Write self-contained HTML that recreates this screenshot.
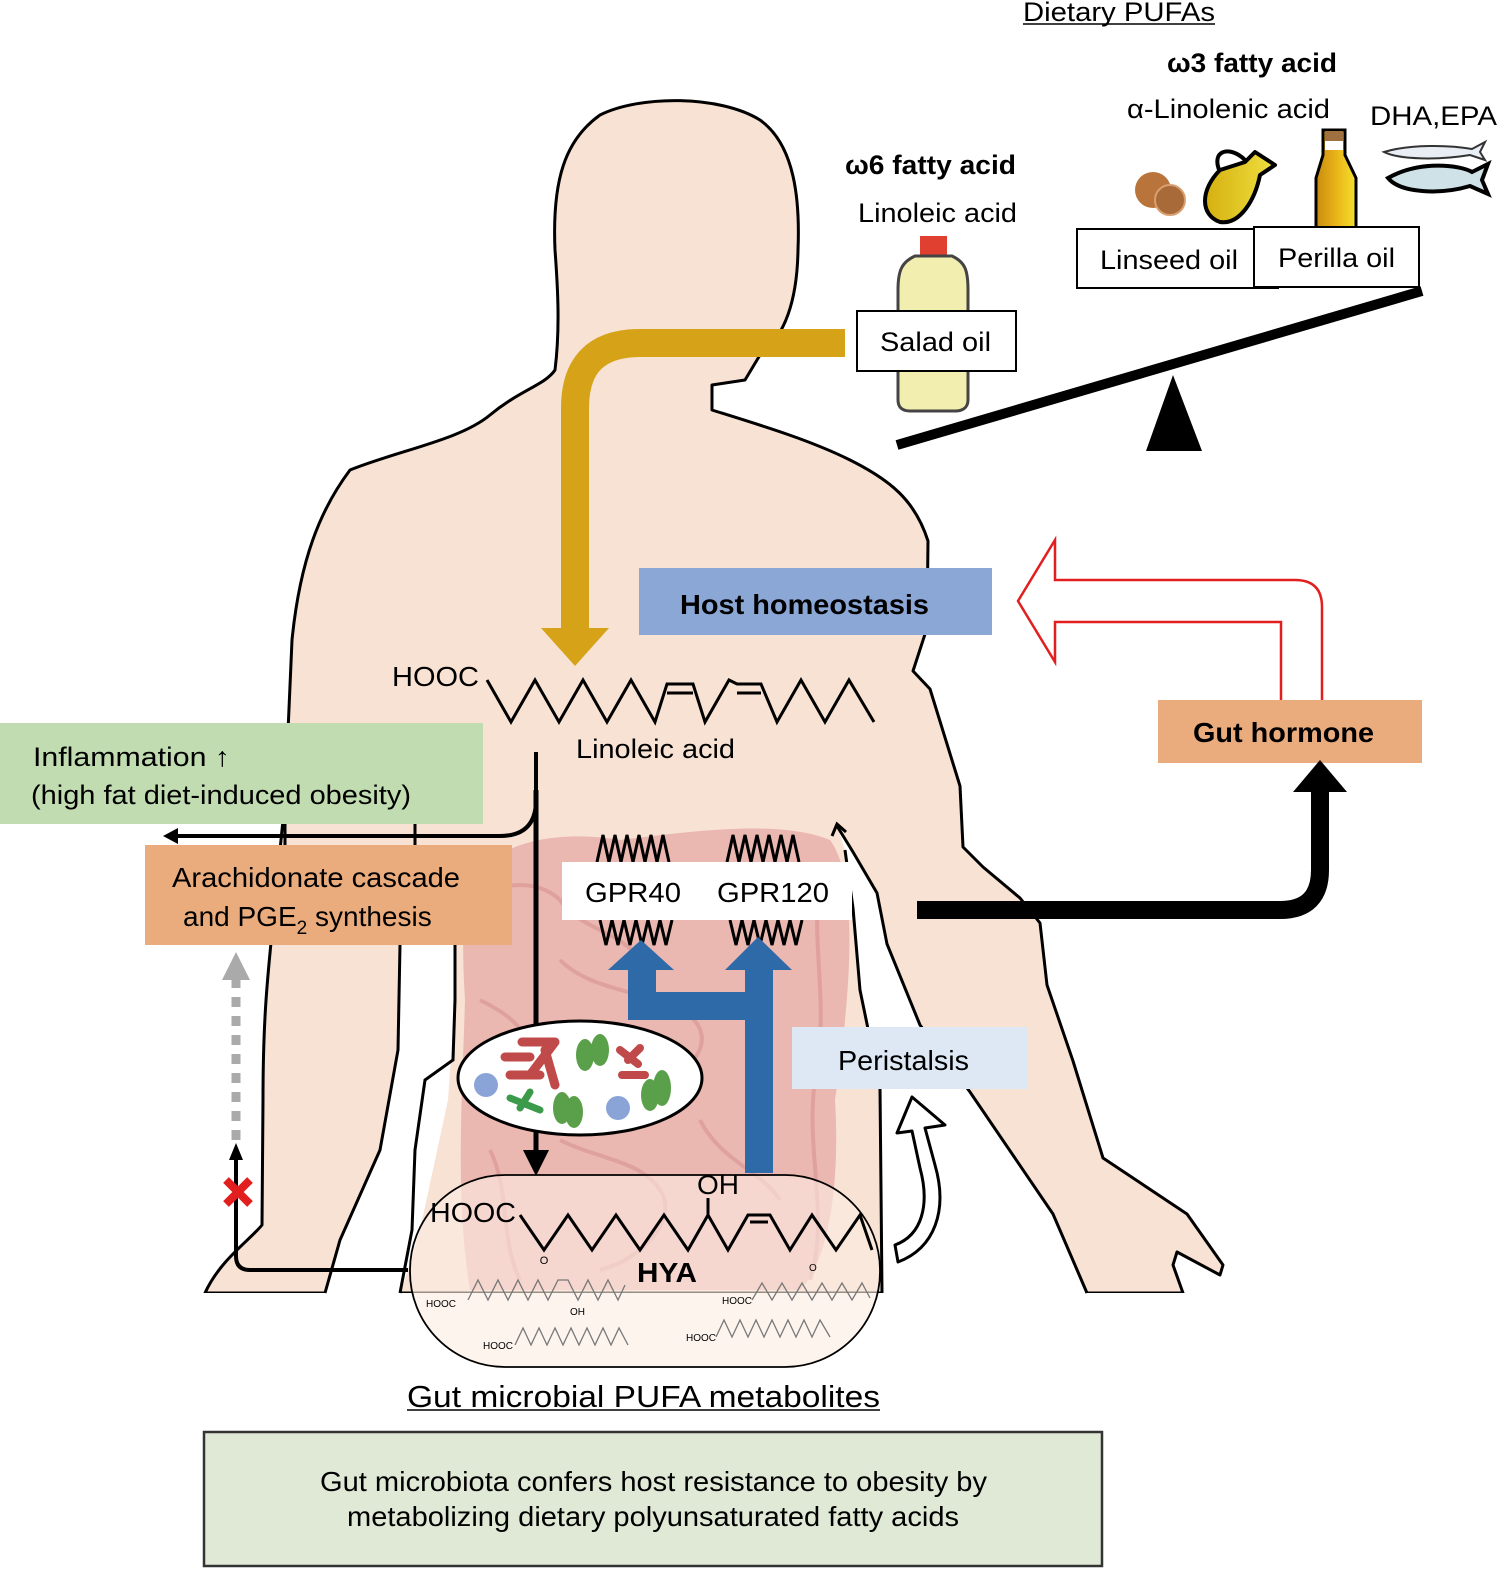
<!DOCTYPE html>
<html><head><meta charset="utf-8">
<style>
html,body{margin:0;padding:0;background:#fff;}
svg{display:block;font-family:"Liberation Sans",Arial,sans-serif;}
</style></head>
<body>
<svg width="1502" height="1572" viewBox="0 0 1502 1572" xmlns="http://www.w3.org/2000/svg">
<defs>
<linearGradient id="gold" x1="0" x2="1"><stop offset="0" stop-color="#c98a10"/><stop offset="0.5" stop-color="#e8b418"/><stop offset="1" stop-color="#f5e030"/></linearGradient>
<linearGradient id="jug" x1="0" x2="1"><stop offset="0" stop-color="#d4b010"/><stop offset="1" stop-color="#f0e040"/></linearGradient>
</defs>

<!-- body -->
<path d="M205,1293 C220,1260 250,1240 262,1225 L263,1100 C263,1000 270,960 275,900 L285,800 L292,640 C300,560 320,510 350,470 C400,450 460,440 490,415 C520,390 545,385 555,370 C560,330 558,290 555,250 C552,180 565,140 600,115 C640,95 720,95 760,120 C795,145 800,200 798,250 C797,310 780,340 760,355 L745,380 L712,385 L712,410 C760,425 810,440 850,460 C890,480 915,500 928,541 L927,628 L913,671 L930,689 L960,786 L963,847 L983,867 L1020,898 L1040,923 L1047,985 L1073,1061 L1103,1158 L1187,1214 L1223,1265 L1220,1275 L1177,1252 L1173,1265 L1183,1293 Z" fill="#f8e2d4" stroke="#000" stroke-width="3" stroke-linejoin="round"/>
<rect x="200" y="1293" width="1000" height="10" fill="#fff"/>
<path d="M837,826 L853,852 L877,893 L887,944 L920,1025 L970,1092 L1053,1214 L1087,1296 L882,1296 L880,1087 L860,990 L853,908 L845,850 Z" fill="#fff"/>
<path d="M837,826 L853,852 L877,893 L887,944 L920,1025 L970,1092 L1053,1214 L1087,1293" fill="none" stroke="#000" stroke-width="3"/>
<path d="M845,850 L853,908 L860,990 L880,1087 L882,1293" fill="none" stroke="#000" stroke-width="3"/>
<path d="M832,836 L837,824 L846,832" fill="none" stroke="#000" stroke-width="3"/>
<path d="M400,945 L398,1050 L380,1150 L340,1240 L325,1296 L400,1296 L420,1230 L448,1100 L455,1000 L455,945 Z" fill="#fff"/>
<path d="M400,945 L398,1050 L380,1150 L340,1240 L325,1293" fill="none" stroke="#000" stroke-width="3"/>
<path d="M455,945 L455,1000 L453,1060 L425,1080 L415,1150 L412,1230 L400,1293" fill="none" stroke="#000" stroke-width="3"/>

<!-- intestines -->
<g opacity="0.9">
<path d="M470,880 C500,840 560,830 620,840 C700,830 780,820 830,840 C860,880 850,1000 835,1100 C840,1180 830,1260 800,1290 L470,1290 C455,1200 462,1100 465,1000 C462,950 462,910 470,880 Z" fill="#eab3ae"/>
<g fill="none" stroke="#d8928f" stroke-width="4" opacity="0.7">
<path d="M480,900 C500,880 540,880 560,900 C580,930 620,930 640,960"/>
<path d="M560,960 C590,990 640,990 680,1010 C720,1030 700,1070 660,1080"/>
<path d="M820,870 C810,950 830,1000 815,1080 C805,1150 830,1220 810,1280"/>
<path d="M480,1000 C520,1020 540,1040 520,1080"/>
<path d="M560,1140 C600,1160 640,1160 660,1190 C680,1220 640,1260 600,1270"/>
<path d="M700,1120 C720,1160 760,1170 780,1200"/>
<path d="M490,1150 C510,1190 500,1240 520,1280"/>
</g>
</g>

<!-- Dietary PUFA texts -->
<text x="1023" y="21" font-size="27" textLength="192" lengthAdjust="spacingAndGlyphs">Dietary PUFAs</text>
<line x1="1023" y1="24" x2="1215" y2="24" stroke="#000" stroke-width="1.5"/>
<text x="1167" y="72" font-size="27" font-weight="bold" textLength="170" lengthAdjust="spacingAndGlyphs">ω3 fatty acid</text>
<text x="1127" y="118" font-size="27" textLength="203" lengthAdjust="spacingAndGlyphs">α-Linolenic acid</text>
<text x="1370" y="125" font-size="27" textLength="127" lengthAdjust="spacingAndGlyphs">DHA,EPA</text>
<text x="845" y="174" font-size="27" font-weight="bold" textLength="171" lengthAdjust="spacingAndGlyphs">ω6 fatty acid</text>
<text x="858" y="222" font-size="27" textLength="159" lengthAdjust="spacingAndGlyphs">Linoleic acid</text>

<!-- walnuts -->
<circle cx="1153" cy="190" r="18" fill="#b8743a"/>
<circle cx="1170" cy="200" r="15" fill="#a86a38" stroke="#d8a070" stroke-width="2"/>
<path d="M1220,170 C1200,190 1200,215 1220,222 C1240,225 1255,200 1260,175 L1275,165 L1255,152 L1245,162 Z" fill="url(#jug)" stroke="#000" stroke-width="4" stroke-linejoin="round"/>
<path d="M1220,172 C1210,150 1230,145 1245,160" fill="none" stroke="#000" stroke-width="4"/>
<path d="M1323,130 L1345,130 L1345,155 L1356,178 L1356,228 L1316,228 L1316,178 L1323,155 Z" fill="url(#gold)" stroke="#000" stroke-width="3"/>
<rect x="1325" y="131" width="18" height="10" fill="#a07040"/>
<rect x="1325" y="141" width="18" height="9" fill="#fff"/>
<path d="M1384,152 C1410,144 1450,145 1472,149 L1485,142 L1480,152 L1485,160 L1470,155 C1440,160 1400,160 1384,152 Z" fill="#e8eef4" stroke="#333" stroke-width="2"/>
<path d="M1388,178 C1420,160 1460,165 1472,172 L1488,164 L1482,180 L1488,194 L1470,186 C1440,195 1400,193 1388,178 Z" fill="#cfe2e8" stroke="#000" stroke-width="4"/>

<rect x="920" y="236" width="27" height="20" fill="#e04030"/>
<path d="M915,256 L952,256 C965,262 968,270 968,290 L968,400 C968,408 962,411 955,411 L910,411 C903,411 898,408 898,400 L898,290 C898,270 902,262 915,256 Z" fill="#f2eeb0" stroke="#444" stroke-width="3"/>

<rect x="1077" y="229" width="201" height="59" fill="#fff" stroke="#000" stroke-width="2"/>
<text x="1100" y="269" font-size="27" textLength="138" lengthAdjust="spacingAndGlyphs">Linseed oil</text>
<rect x="1254" y="227" width="165" height="60" fill="#fff" stroke="#000" stroke-width="2"/>
<text x="1278" y="267" font-size="27" textLength="117" lengthAdjust="spacingAndGlyphs">Perilla oil</text>
<rect x="857" y="311" width="159" height="60" fill="#fff" stroke="#000" stroke-width="2"/>
<text x="880" y="351" font-size="27" textLength="111" lengthAdjust="spacingAndGlyphs">Salad oil</text>

<line x1="897" y1="445" x2="1422" y2="291" stroke="#000" stroke-width="10"/>
<polygon points="1146,451 1202,451 1173,375" fill="#000"/>

<path d="M845,343 L640,343 Q575,343 575,408 L575,630" fill="none" stroke="#d6a318" stroke-width="28"/>
<polygon points="541,628 609,628 575,666" fill="#d6a318"/>

<rect x="639" y="568" width="353" height="67" fill="#8ba7d6"/>
<text x="680" y="614" font-size="28" font-weight="bold" textLength="249" lengthAdjust="spacingAndGlyphs">Host homeostasis</text>

<path d="M1281,700 L1281,622 L1055,622 L1055,662 L1018,601 L1055,540 L1055,580 L1295,580 Q1322,580 1322,607 L1322,700" fill="#fff" stroke="#e21f1f" stroke-width="2.5"/>

<rect x="1158" y="700" width="264" height="63" fill="#eaab7d"/>
<text x="1193" y="742" font-size="28" font-weight="bold" textLength="181" lengthAdjust="spacingAndGlyphs">Gut hormone</text>

<text x="392" y="686" font-size="28" textLength="87" lengthAdjust="spacingAndGlyphs">HOOC</text>
<polyline points="487,680 511,722 535,680 559,722 583,680 607,722 631,680 655,722 667,684 693,684 705,722 729,680 737,684 761,684 777,722 801,680 825,722 849,680 874,722" fill="none" stroke="#000" stroke-width="3"/>
<line x1="667" y1="693" x2="693" y2="693" stroke="#000" stroke-width="3"/>
<line x1="737" y1="693" x2="761" y2="693" stroke="#000" stroke-width="3"/>
<text x="576" y="758" font-size="27" textLength="159" lengthAdjust="spacingAndGlyphs">Linoleic acid</text>

<rect x="0" y="723" width="483" height="101" fill="#c0dcb0"/>
<text x="33" y="766" font-size="27" textLength="197" lengthAdjust="spacingAndGlyphs">Inflammation ↑</text>
<text x="31" y="804" font-size="27" textLength="380" lengthAdjust="spacingAndGlyphs">(high fat diet-induced obesity)</text>

<path d="M536,752 L536,800 Q536,836 500,836 L172,836" fill="none" stroke="#000" stroke-width="4"/>
<polygon points="163,836 178,828 178,844" fill="#000"/>
<line x1="285" y1="824" x2="285" y2="846" stroke="#000" stroke-width="3"/>
<line x1="415" y1="824" x2="415" y2="846" stroke="#000" stroke-width="3"/>
<line x1="536" y1="790" x2="536" y2="1155" stroke="#000" stroke-width="5"/>
<polygon points="523,1150 549,1150 536,1176" fill="#000"/>

<rect x="145" y="845" width="367" height="100" fill="#eaab7d"/>
<text x="172" y="887" font-size="28" textLength="288" lengthAdjust="spacingAndGlyphs">Arachidonate cascade</text>
<text x="183" y="926" font-size="28">and PGE<tspan font-size="19" dy="8">2</tspan><tspan dy="-8"> synthesis</tspan></text>

<line x1="236" y1="1140" x2="236" y2="978" stroke="#aaa" stroke-width="9" stroke-dasharray="10,9"/>
<polygon points="222,980 250,980 236,952" fill="#aaa"/>
<path d="M408,1270 L250,1270 Q236,1270 236,1256 L236,1158" fill="none" stroke="#000" stroke-width="4"/>
<polygon points="229,1160 243,1160 236,1143" fill="#000"/>
<path d="M226,1180 L250,1204 M250,1180 L226,1204" stroke="#e21f1f" stroke-width="8"/>

<polyline points="597,862 603,835 609,862 615,835 621,862 627,835 633,862 639,835 645,862 651,835 657,862 663,835 669,862" fill="none" stroke="#000" stroke-width="3"/>
<polyline points="727,862 733,835 739,862 745,835 751,862 757,835 763,862 769,835 775,862 781,835 787,862 793,835 799,862" fill="none" stroke="#000" stroke-width="3"/>
<polyline points="600,920 606,945 612,920 618,945 624,920 630,945 636,920 642,945 648,920 654,945 660,920 666,945 672,920" fill="none" stroke="#000" stroke-width="3"/>
<polyline points="730,920 736,945 742,920 748,945 754,920 760,945 766,920 772,945 778,920 784,945 790,920 796,945 802,920" fill="none" stroke="#000" stroke-width="3"/>
<rect x="562" y="862" width="290" height="58" fill="#fff"/>
<text x="585" y="902" font-size="28" textLength="96" lengthAdjust="spacingAndGlyphs">GPR40</text>
<text x="717" y="902" font-size="28" textLength="112" lengthAdjust="spacingAndGlyphs">GPR120</text>

<path d="M917,910 L1280,910 Q1320,910 1320,870 L1320,790" fill="none" stroke="#000" stroke-width="18"/>
<polygon points="1293,792 1347,792 1320,760" fill="#000"/>

<rect x="745" y="968" width="28" height="205" fill="#2e6aa8"/>
<polygon points="725,970 792,970 758,937" fill="#2e6aa8"/>
<rect x="628" y="992" width="130" height="28" fill="#2e6aa8"/>
<rect x="628" y="968" width="28" height="52" fill="#2e6aa8"/>
<polygon points="608,970 674,970 641,940" fill="#2e6aa8"/>

<rect x="792" y="1027" width="236" height="62" fill="#dde8f4"/>
<text x="838" y="1070" font-size="28" textLength="131" lengthAdjust="spacingAndGlyphs">Peristalsis</text>
<path d="M898,1262 C935,1248 948,1210 935,1165 L925,1128 L945,1125 L912,1097 L897,1133 L912,1131 L920,1168 C930,1205 922,1235 895,1245 Z" fill="#fff" stroke="#000" stroke-width="3" stroke-linejoin="round"/>

<ellipse cx="580" cy="1078" rx="122" ry="57" fill="#fff" stroke="#000" stroke-width="3"/>
<g stroke-linecap="round" fill="none">
<path d="M505,1057 L530,1057 M522,1042 L555,1042 M555,1042 L530,1075 M545,1050 L555,1085 M510,1075 L540,1075" stroke="#c0494a" stroke-width="9"/>
<path d="M620,1050 L638,1064 M628,1060 L640,1048 M622,1075 L645,1075" stroke="#c0494a" stroke-width="8"/>
<path d="M510,1098 L540,1110 M520,1108 L530,1092" stroke="#3c9b4a" stroke-width="7"/>
<ellipse cx="585" cy="1055" rx="9" ry="16" stroke="none" fill="#5aa04a"/>
<ellipse cx="600" cy="1050" rx="9" ry="16" stroke="none" fill="#5aa04a"/>
<ellipse cx="562" cy="1108" rx="9" ry="16" stroke="none" fill="#5aa04a"/>
<ellipse cx="574" cy="1112" rx="9" ry="16" stroke="none" fill="#5aa04a"/>
<ellipse cx="662" cy="1088" rx="9" ry="18" stroke="none" fill="#5aa04a"/>
<ellipse cx="650" cy="1095" rx="9" ry="16" stroke="none" fill="#5aa04a"/>
<circle cx="486" cy="1085" r="12" stroke="none" fill="#8aa4d8"/>
<circle cx="618" cy="1108" r="12" stroke="none" fill="#8aa4d8"/>
</g>

<rect x="410" y="1175" width="470" height="192" rx="95" fill="#fbece2" fill-opacity="0.6" stroke="#000" stroke-width="1.8"/>
<text x="430" y="1222" font-size="28" textLength="86" lengthAdjust="spacingAndGlyphs">HOOC</text>
<polyline points="520,1215 544,1250 568,1215 592,1250 616,1215 640,1250 664,1215 688,1250 708,1215 728,1250 748,1215 770,1215 790,1250 812,1215 836,1250 860,1215 872,1250" fill="none" stroke="#000" stroke-width="3"/>
<line x1="750" y1="1222" x2="768" y2="1222" stroke="#000" stroke-width="3"/>
<line x1="708" y1="1198" x2="708" y2="1215" stroke="#000" stroke-width="3"/>
<text x="697" y="1194" font-size="27" textLength="42" lengthAdjust="spacingAndGlyphs">OH</text>
<text x="544" y="1264" font-size="11" text-anchor="middle">O</text>
<text x="637" y="1282" font-size="28" font-weight="bold" textLength="60" lengthAdjust="spacingAndGlyphs">HYA</text>
<g fill="none" stroke="#777" stroke-width="1.3">
<polyline points="468,1300 478,1280 488,1300 498,1280 508,1300 518,1280 528,1300 538,1280 548,1300 558,1280 568,1280 578,1300 588,1280 598,1300 608,1280 618,1300 625,1285"/>
<polyline points="515,1345 523,1328 531,1345 539,1328 547,1345 555,1328 563,1345 571,1328 579,1345 587,1328 595,1345 603,1328 611,1345 619,1328 628,1345"/>
<polyline points="752,1300 762,1283 772,1300 782,1283 792,1300 802,1283 812,1300 822,1283 832,1300 842,1283 852,1300 862,1283 870,1298"/>
<polyline points="716,1337 724,1320 732,1337 740,1320 748,1337 756,1320 764,1337 772,1320 780,1337 788,1320 796,1337 804,1320 812,1337 820,1320 830,1337"/>
</g>
<g font-size="10" fill="#000">
<text x="426" y="1307">HOOC</text>
<text x="570" y="1315">OH</text>
<text x="483" y="1349">HOOC</text>
<text x="722" y="1304">HOOC</text>
<text x="809" y="1271">O</text>
<text x="686" y="1341">HOOC</text>
</g>

<text x="407" y="1407" font-size="31" textLength="473" lengthAdjust="spacingAndGlyphs">Gut microbial PUFA metabolites</text>
<line x1="407" y1="1410" x2="880" y2="1410" stroke="#000" stroke-width="1.5"/>

<rect x="204" y="1432" width="898" height="134" fill="#dfe9d6" stroke="#333" stroke-width="2.5"/>
<text x="320" y="1491" font-size="28" textLength="667" lengthAdjust="spacingAndGlyphs">Gut microbiota confers host resistance to obesity by</text>
<text x="347" y="1526" font-size="28" textLength="612" lengthAdjust="spacingAndGlyphs">metabolizing dietary polyunsaturated fatty acids</text>
</svg>
</body></html>
